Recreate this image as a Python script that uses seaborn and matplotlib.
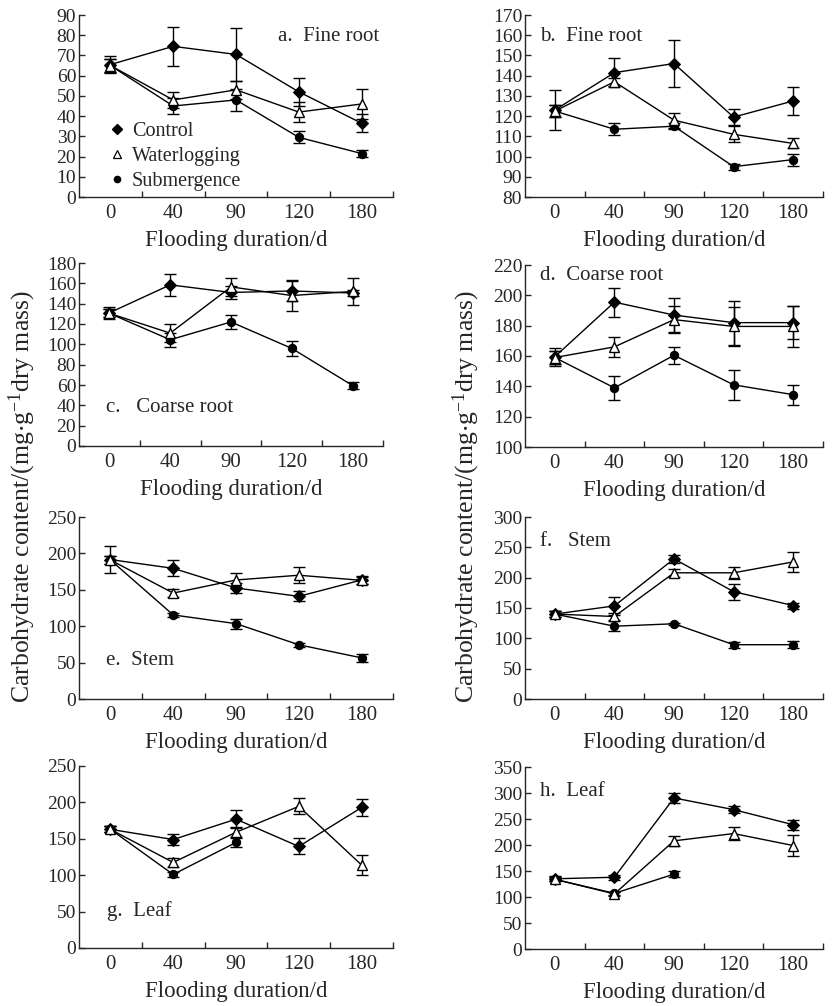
import numpy as np
import pandas as pd
import matplotlib
matplotlib.use("Agg")
import matplotlib.pyplot as plt
import seaborn as sns
from matplotlib.lines import Line2D
from matplotlib.ticker import FixedLocator

# ---------------- data ----------------
days = ["0", "40", "90", "120", "180"]
treatments = ["Control", "Waterlogging", "Submergence"]

# a. Fine root (left)
a_control = [65.5, 74.5, 70.5, 52.0, 36.5]
a_control_err = [4.0, 9.5, 13.0, 7.0, 4.5]
a_water = [65.0, 48.0, 53.0, 42.0, 46.0]
a_water_err = [3.0, 4.0, 4.5, 5.0, 7.5]
a_sub = [65.0, 45.0, 48.0, 29.5, 21.5]
a_sub_err = [3.0, 4.0, 5.5, 3.0, 1.5]

# b. Fine root (right)
b_control = [123.0, 141.5, 146.0, 119.5, 127.5]
b_control_err = [10.0, 7.0, 11.5, 4.0, 7.0]
b_water = [122.5, 137.0, 118.0, 111.0, 106.5]
b_water_err = [3.0, 2.0, 3.7, 4.0, 2.5]
b_sub = [122.5, 113.5, 115.0, 95.0, 98.5]
b_sub_err = [3.0, 3.0, 1.5, 1.5, 3.0]

# c. Coarse root (left)
c_control = [131.0, 158.5, 151.0, 152.5, 150.5]
c_control_err = [6.0, 11.0, 6.0, 10.0, 3.0]
c_water = [130.5, 111.0, 156.5, 148.0, 152.0]
c_water_err = [4.0, 9.0, 9.0, 15.0, 13.5]
c_sub = [130.5, 104.5, 122.0, 96.0, 59.5]
c_sub_err = [4.0, 7.0, 7.0, 7.0, 3.0]

# d. Coarse root (right)
d_control = [159.5, 195.5, 187.0, 182.0, 182.0]
d_control_err = [6.0, 9.5, 11.5, 14.5, 11.0]
d_water = [159.0, 166.0, 184.0, 179.5, 179.5]
d_water_err = [4.0, 6.5, 9.0, 13.0, 13.5]
d_sub = [159.0, 139.0, 160.5, 141.0, 134.5]
d_sub_err = [4.0, 8.0, 5.5, 10.0, 6.5]

# e. Stem (left)
e_control = [191.5, 179.5, 152.5, 141.0, 163.5]
e_control_err = [19.0, 11.0, 7.0, 7.0, 5.0]
e_water = [191.0, 145.5, 163.5, 170.0, 163.0]
e_water_err = [6.0, 6.0, 9.0, 11.0, 5.0]
e_sub = [191.0, 115.5, 103.5, 74.5, 56.5]
e_sub_err = [6.0, 3.0, 7.0, 3.0, 6.0]

# f. Stem (right)
f_control = [140.0, 153.5, 231.0, 177.0, 154.0]
f_control_err = [5.0, 15.0, 7.0, 13.0, 5.0]
f_water = [140.0, 136.0, 208.0, 208.0, 226.0]
f_water_err = [5.0, 5.0, 7.0, 10.0, 17.0]
f_sub = [140.0, 120.0, 124.0, 89.5, 89.5]
f_sub_err = [5.0, 8.0, 2.0, 5.0, 6.0]

# g. Leaf (left)
g_control = [163.0, 149.0, 177.0, 139.5, 193.0]
g_control_err = [4.0, 7.0, 12.0, 11.0, 11.0]
g_water = [163.0, 117.5, 159.0, 194.5, 114.0]
g_water_err = [4.0, 6.0, 7.0, 11.0, 14.0]
g_sub = [163.0, 101.0, 145.0]
g_sub_err = [4.0, 4.0, 6.0]

# h. Leaf (right)
h_control = [135.0, 138.0, 290.5, 268.0, 239.0]
h_control_err = [5.0, 5.0, 9.0, 7.0, 10.0]
h_water = [134.0, 106.0, 208.0, 222.0, 199.0]
h_water_err = [4.0, 4.0, 10.0, 12.0, 20.0]
h_sub = [134.0, 107.0, 144.0]
h_sub_err = [4.0, 3.0, 6.0]

panel_labels = ["a.  Fine root", "b.  Fine root", "c.   Coarse root", "d.  Coarse root",
                "e.  Stem", "f.   Stem", "g.  Leaf", "h.  Leaf"]
x_label = "Flooding duration/d"
y_label = "Carbohydrate content/(mg$\\cdot$g$^{-1}$dry mass)"

# ---------------- style ----------------
sns.set_style("ticks")
plt.rcParams["font.family"] = ["Liberation Serif", "DejaVu Serif"]
plt.rcParams["mathtext.fontset"] = "custom"
plt.rcParams["mathtext.rm"] = "Liberation Serif"
plt.rcParams["mathtext.default"] = "regular"
plt.rcParams["axes.linewidth"] = 1.0

W, H = 833, 1006
fig = plt.figure(figsize=(W / 100, H / 100), dpi=100)

def px_axes(left, top, right, bottom):
    return fig.add_axes([left / W, 1 - bottom / H, (right - left) / W, (bottom - top) / H])

marker_style = {
    "Control": dict(marker="D", markersize=6.5, markerfacecolor="black", markeredgecolor="black"),
    "Waterlogging": dict(marker="^", markersize=7.5, markerfacecolor="white", markeredgecolor="black", markeredgewidth=1.0),
    "Submergence": dict(marker="o", markersize=6, markerfacecolor="black", markeredgecolor="black"),
}
draw_order = ["Control", "Submergence", "Waterlogging"]

def draw(ax, means, errs, ylim, ystep, label, lx, ly):
    for t in draw_order:
        m = means[t]
        e = errs[t]
        x = np.arange(len(m))
        ax.errorbar(x, m, yerr=e, fmt="none", ecolor="black", elinewidth=1.0,
                    capsize=4.5, capthick=1.0, zorder=2)
        df = pd.DataFrame({"x": x, "y": m})
        sns.lineplot(data=df, x="x", y="y", ax=ax, color="black", linewidth=1.0,
                     zorder=3, legend=False, **marker_style[t])
    ax.set_xlim(-0.5, 4.5)
    ax.set_ylim(*ylim)
    ax.set_yticks(np.arange(ylim[0], ylim[1] + 0.1, ystep))
    ax.set_xticks(range(len(days)))
    ax.set_xticklabels(days)
    ax.xaxis.set_minor_locator(FixedLocator([0.5, 1.5, 2.5, 3.5, 4.5]))
    ax.tick_params(axis="x", which="major", length=0, pad=5, labelsize=15)
    ax.tick_params(axis="x", which="minor", direction="in", length=4, width=1.0)
    ax.tick_params(axis="y", which="major", direction="in", length=4, width=1.0,
                   pad=2, labelsize=14)
    sns.despine(ax=ax)
    ax.set_xlabel(x_label, fontsize=16.5, labelpad=5)
    ax.set_ylabel("")
    ax.text(lx, ly, label, transform=ax.transAxes, ha="left", va="center", fontsize=15)

def d3(c, ce, w, we, s, se):
    return ({"Control": c, "Waterlogging": w, "Submergence": s},
            {"Control": ce, "Waterlogging": we, "Submergence": se})

ax_a = px_axes(79, 15, 393, 197)
ax_b = px_axes(525, 15, 823, 197)
ax_c = px_axes(79, 263, 383, 446)
ax_d = px_axes(525, 265, 823, 447)
ax_e = px_axes(79, 517, 393, 699)
ax_f = px_axes(525, 517, 823, 699)
ax_g = px_axes(79, 766, 393, 948)
ax_h = px_axes(525, 767, 823, 949)

m, e = d3(a_control, a_control_err, a_water, a_water_err, a_sub, a_sub_err)
draw(ax_a, m, e, (0, 90), 10, panel_labels[0], 0.634, 0.88)
m, e = d3(b_control, b_control_err, b_water, b_water_err, b_sub, b_sub_err)
draw(ax_b, m, e, (80, 170), 10, panel_labels[1], 0.05, 0.88)
m, e = d3(c_control, c_control_err, c_water, c_water_err, c_sub, c_sub_err)
draw(ax_c, m, e, (0, 180), 20, panel_labels[2], 0.09, 0.213)
m, e = d3(d_control, d_control_err, d_water, d_water_err, d_sub, d_sub_err)
draw(ax_d, m, e, (100, 220), 20, panel_labels[3], 0.05, 0.945)
m, e = d3(e_control, e_control_err, e_water, e_water_err, e_sub, e_sub_err)
draw(ax_e, m, e, (0, 250), 50, panel_labels[4], 0.086, 0.209)
m, e = d3(f_control, f_control_err, f_water, f_water_err, f_sub, f_sub_err)
draw(ax_f, m, e, (0, 300), 50, panel_labels[5], 0.05, 0.868)
m, e = d3(g_control, g_control_err, g_water, g_water_err, g_sub, g_sub_err)
draw(ax_g, m, e, (0, 250), 50, panel_labels[6], 0.089, 0.203)
m, e = d3(h_control, h_control_err, h_water, h_water_err, h_sub, h_sub_err)
draw(ax_h, m, e, (0, 350), 50, panel_labels[7], 0.05, 0.863)

# legend in panel a (smaller markers than the plot markers, serif text)
legend_marker = {
    "Control": dict(marker="D", markersize=5, markerfacecolor="black", markeredgecolor="black"),
    "Waterlogging": dict(marker="^", markersize=5.5, markerfacecolor="white", markeredgecolor="black", markeredgewidth=0.9),
    "Submergence": dict(marker="o", markersize=4.5, markerfacecolor="black", markeredgecolor="black"),
}
handles = [Line2D([], [], linestyle="none", color="black", **legend_marker[t]) for t in treatments]
ax_a.legend(handles, treatments, loc="lower left", bbox_to_anchor=(0.05, -0.035),
            frameon=False, prop={"family": "Liberation Serif", "size": 14.5},
            handletextpad=0.25, labelspacing=0.3, handlelength=1.0, borderaxespad=0.2)

fig.text(22 / W, 1 - 497 / H, y_label, rotation=90, ha="center", va="center", fontsize=18.5)
fig.text(466 / W, 1 - 497 / H, y_label, rotation=90, ha="center", va="center", fontsize=18.5)

fig.savefig("out.png", dpi=100)
